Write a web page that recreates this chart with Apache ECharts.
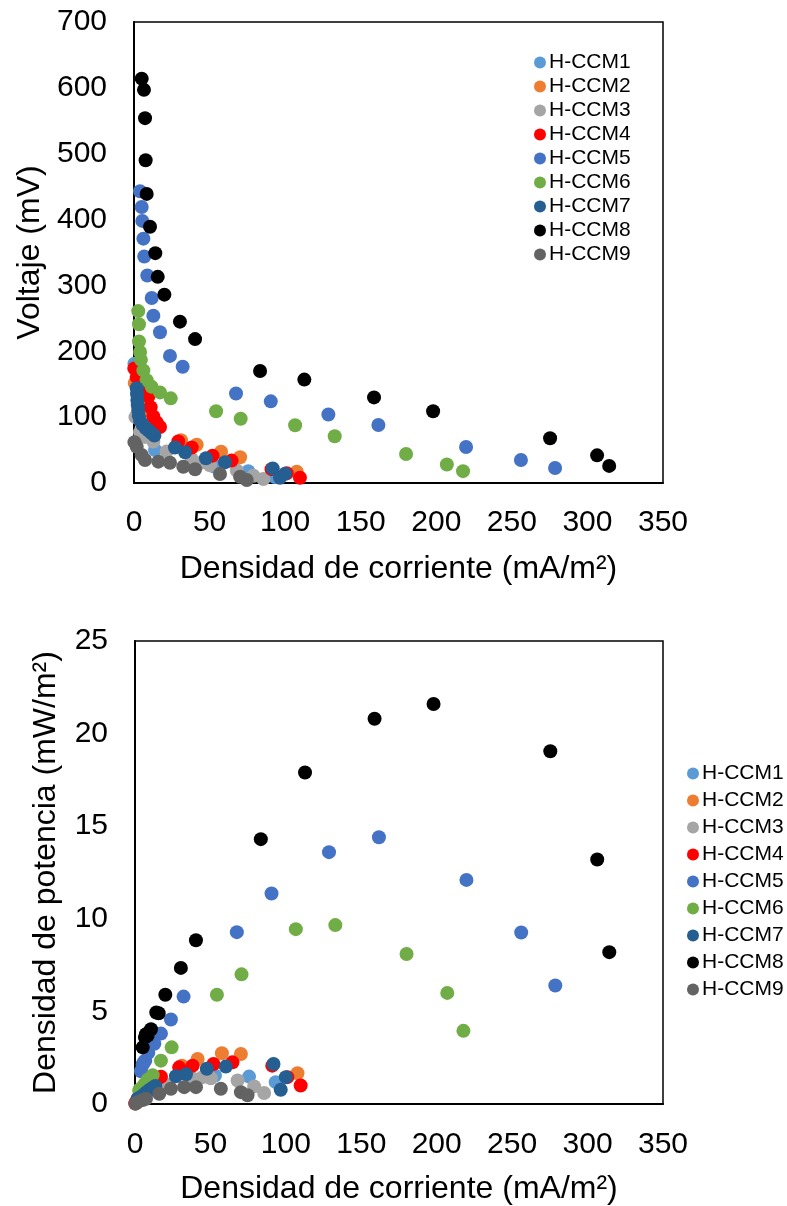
<!DOCTYPE html>
<html>
<head>
<meta charset="utf-8">
<script src="https://cdn.jsdelivr.net/npm/echarts@6/dist/echarts.min.js"></script>
<style>
html,body{margin:0;padding:0;background:#fff;}
#c{width:787px;height:1206px;}
</style>
</head>
<body>
<div id="c"></div>
<script>
const categories = ['H-CCM1','H-CCM2','H-CCM3','H-CCM4','H-CCM5','H-CCM6','H-CCM7','H-CCM8','H-CCM9'];
const colors = ['#5B9BD5','#ED7D31','#A5A5A5','#FF0000','#4472C4','#70AD47','#255E91','#000000','#636363'];

const xTicks = [0,50,100,150,200,250,300,350];
const yTicksV = [0,100,200,300,400,500,600,700];
const yTicksP = [0,5,10,15,20,25];

// current density (mA/m2)
const J1 = [0.3, 2.0, 8.4, 13.9, 53.0, 75.6, 93.3];
const J2 = [0.5, 3.0, 7.7, 12.0, 31.1, 41.5, 57.6, 70.2, 107.7];
const J3 = [1.0, 4.0, 7.3, 12.8, 21.6, 38.2, 44.8, 50.3, 68.0, 79.0, 85.6];
const J4 = [0.2, 1.8, 4.0, 7.0, 9.5, 11.0, 12.8, 15.0, 17.2, 29.3, 38.2, 52.0, 64.6, 91.0, 101.0, 109.8];
const J5 = [4.0, 5.1, 5.5, 6.2, 6.8, 8.8, 11.7, 12.8, 17.2, 23.8, 32.2, 67.5, 90.5, 128.6, 161.7, 219.7, 256.0, 278.6];
const J6 = [2.8, 3.3, 3.3, 4.0, 4.6, 6.2, 8.4, 11.7, 17.2, 24.3, 54.3, 70.6, 106.6, 132.8, 180.0, 207.0, 217.7];
const J7 = [1.8, 2.0, 2.2, 2.5, 2.8, 3.2, 4.0, 5.5, 7.5, 9.5, 11.5, 13.5, 27.1, 33.8, 47.6, 60.2, 91.8, 100.0, 96.6];
const J8 = [5.1, 6.6, 7.3, 7.7, 8.4, 10.6, 14.1, 15.7, 20.1, 30.4, 40.4, 83.4, 112.7, 158.8, 197.9, 275.3, 306.4, 314.4];
const J9 = [0.3, 1.8, 5.1, 7.3, 16.1, 23.8, 32.6, 40.4, 56.9, 70.2, 74.6];

// voltage (mV)
const V1 = [181, 150, 111, 50, 25, 18, 9];
const V2 = [152, 135, 111, 90, 65, 58, 47.5, 39, 17];
const V3 = [100, 77, 70, 63, 48, 36, 31, 27, 19, 11, 6];
const V4 = [174, 161, 150, 140, 131, 115, 101, 92, 85, 63, 54, 41.5, 34, 21, 14.7, 8];
const V5 = [443, 419, 398, 371, 344, 315, 281, 254, 229, 193, 176.5, 136, 124, 104, 88, 54.6, 35, 22.8];
const V6 = [261, 241, 215, 199, 187, 171, 156, 146, 137.6, 128.5, 109, 97.6, 87.6, 71, 44, 28, 18];
const V7 = [144, 135, 126, 118, 110, 102, 95, 89, 84, 80, 76, 72, 54, 46.6, 37.5, 31.4, 22, 14, 8];
const V8 = [614, 597, 554, 490, 439, 389, 349, 313, 286, 245, 218.5, 170, 157, 130, 109, 68, 42, 26];
const V9 = [62, 55, 42.5, 35, 32.4, 30.8, 24.7, 20.8, 13.7, 9.6, 4.5];

// power density (mW/m2)
const P1 = [0.05, 0.30, 0.93, 0.70, 1.54, 1.48, 1.18];
const P2 = [0.08, 0.40, 0.85, 1.08, 2.07, 2.43, 2.74, 2.70, 1.66];
const P3 = [0.10, 0.31, 0.51, 0.81, 1.04, 1.38, 1.45, 1.39, 1.27, 0.95, 0.59];
const P4 = [0.03, 0.29, 0.60, 0.98, 1.24, 1.27, 1.29, 1.38, 1.47, 1.98, 2.07, 2.16, 2.25, 2.07, 1.45, 1.00];
const P5 = [1.77, 2.14, 2.19, 2.30, 2.34, 2.77, 3.29, 3.25, 3.80, 4.56, 5.80, 9.28, 11.37, 13.60, 14.40, 12.10, 9.26, 6.40];
const P6 = [0.73, 0.80, 0.71, 0.80, 0.86, 1.06, 1.31, 1.55, 2.34, 3.06, 5.90, 7.00, 9.44, 9.66, 8.10, 6.00, 3.95];
const P7 = [0.26, 0.27, 0.28, 0.30, 0.31, 0.33, 0.38, 0.49, 0.63, 0.76, 0.87, 0.97, 1.50, 1.60, 1.90, 2.02, 2.16, 1.45, 0.77];
const P8 = [3.06, 3.60, 3.77, 3.77, 3.69, 4.04, 4.94, 4.90, 5.90, 7.35, 8.84, 14.30, 17.90, 20.80, 21.60, 19.05, 13.20, 8.20];
const P9 = [0.02, 0.10, 0.22, 0.28, 0.55, 0.82, 0.91, 0.91, 0.82, 0.64, 0.47];

const Js = [J1,J2,J3,J4,J5,J6,J7,J8,J9];
const Vs = [V1,V2,V3,V4,V5,V6,V7,V8,V9];
const Ps = [P1,P2,P3,P4,P5,P6,P7,P8,P9];

const FONT = 'Liberation Sans, Arial, sans-serif';
const pair = (xs, ys) => xs.map((x, i) => [x, ys[i]]);

const series = [];
categories.forEach((name, k) => {
  series.push({
    name, type: 'scatter', xAxisIndex: 0, yAxisIndex: 0,
    symbolSize: 14, itemStyle: { color: colors[k], opacity: 1 },
    data: pair(Js[k], Vs[k])
  });
});
categories.forEach((name, k) => {
  series.push({
    name, type: 'scatter', xAxisIndex: 1, yAxisIndex: 1,
    symbolSize: 14, itemStyle: { color: colors[k], opacity: 1 },
    data: pair(Js[k], Ps[k])
  });
});

function xAxis(gi, gap, margin) {
  return {
    gridIndex: gi, type: 'value', min: xTicks[0], max: xTicks[xTicks.length-1], interval: 50,
    axisLine: { show: true, onZero: false, lineStyle: { color: '#000', width: 2 } },
    axisTick: { show: false }, splitLine: { show: false },
    axisLabel: { fontSize: 30, color: '#000', fontFamily: FONT, margin },
    name: 'Densidad de corriente (mA/m²)', nameLocation: 'middle', nameGap: gap,
    nameTextStyle: { fontSize: 32, color: '#000', fontFamily: FONT }
  };
}
function yAxis(gi, ticks, name, gap) {
  return {
    gridIndex: gi, type: 'value', min: ticks[0], max: ticks[ticks.length-1], interval: ticks[1]-ticks[0],
    axisLine: { show: true, onZero: false, lineStyle: { color: '#000', width: 2 } },
    axisTick: { show: false }, splitLine: { show: false },
    axisLabel: { fontSize: 30, color: '#000', fontFamily: FONT, margin: 27 },
    name, nameLocation: 'middle', nameGap: gap,
    nameTextStyle: { fontSize: 32, color: '#000', fontFamily: FONT }
  };
}

const chart = echarts.init(document.getElementById('c'), null, { renderer: 'canvas' });
chart.setOption({
  backgroundColor: '#fff',
  animation: false,
  color: colors,
  grid: [
    { left: 134, top: 22, width: 529, height: 461, show: true, borderColor: '#000', borderWidth: 1.5, backgroundColor: 'transparent' },
    { left: 135, top: 641, width: 528, height: 466, show: true, borderColor: '#000', borderWidth: 1.5, backgroundColor: 'transparent' }
  ],
  xAxis: [xAxis(0, 70, 25), xAxis(1, 69, 26)],
  yAxis: [
    yAxis(0, yTicksV, 'Voltaje (mV)', 83),
    yAxis(1, yTicksP, 'Densidad de potencia (mW/m²)', 73)
  ],
  legend: [
    { data: categories, orient: 'vertical', left: 529, top: 47, padding: 5, itemWidth: 12, itemHeight: 12, itemGap: 3,
      icon: 'circle', selectedMode: false,
      textStyle: { fontSize: 21, color: '#000', fontFamily: FONT, padding: [0,0,0,-2] } },
    { data: categories, orient: 'vertical', left: 682, top: 758, padding: 5, itemWidth: 12, itemHeight: 12, itemGap: 6,
      icon: 'circle', selectedMode: false,
      textStyle: { fontSize: 21, color: '#000', fontFamily: FONT, padding: [0,0,0,-2] } }
  ],
  series
});
</script>
</body>
</html>
